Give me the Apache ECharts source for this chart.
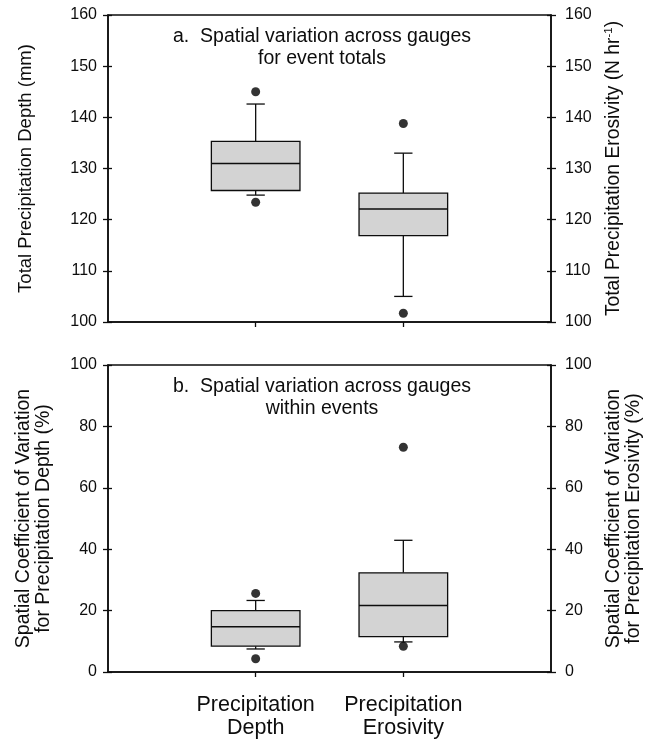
<!DOCTYPE html>
<html>
<head>
<meta charset="utf-8">
<script src="https://cdn.jsdelivr.net/npm/echarts@6/dist/echarts.min.js"></script>
<style>
html,body{margin:0;padding:0;background:#fff;}
#chart{width:658px;height:742px;}
</style>
</head>
<body>
<div id="chart"></div>
<script>
// ---- data ----
const categories = ['Precipitation\nDepth', 'Precipitation\nErosivity'];
// [lower whisker, Q1, median, Q3, upper whisker]
const totalDepthStats = [124.8, 125.7, 131.0, 135.3, 142.6];
const totalErosivityStats = [105.0, 116.9, 122.1, 125.2, 133.0];
const totalDepthOutliers = [145.0, 123.4];
const totalErosivityOutliers = [138.8, 101.7];
const cvDepthStats = [7.5, 8.4, 14.7, 20.0, 23.3];
const cvErosivityStats = [9.8, 11.5, 21.7, 32.3, 42.9];
const cvDepthOutliers = [25.6, 4.3];
const cvErosivityOutliers = [73.2, 8.4];
const totalTicks = [100, 160, 10];
const cvTicks = [0, 100, 20];

const FONT = '"Liberation Sans", Arial, Helvetica, sans-serif';
const INK = '#0d0d0d';
const axisCats = [''].concat(categories, ['']);

function boxRender(params, api) {
  const x = api.value(0);
  const lo = api.coord([x, api.value(1)]);
  const q1 = api.coord([x, api.value(2)]);
  const med = api.coord([x, api.value(3)]);
  const q3 = api.coord([x, api.value(4)]);
  const hi = api.coord([x, api.value(5)]);
  const band = api.size([1, 0])[0];
  const half = band * 0.3, cap = band * 0.062;
  const cx = lo[0];
  const st = {stroke: INK, lineWidth: 1.3, fill: null};
  return {type: 'group', children: [
    {type: 'line', shape: {x1: cx, y1: q3[1], x2: cx, y2: hi[1]}, style: st},
    {type: 'line', shape: {x1: cx - cap, y1: hi[1], x2: cx + cap, y2: hi[1]}, style: st},
    {type: 'line', shape: {x1: cx, y1: q1[1], x2: cx, y2: lo[1]}, style: st},
    {type: 'line', shape: {x1: cx - cap, y1: lo[1], x2: cx + cap, y2: lo[1]}, style: st},
    {type: 'rect', shape: {x: cx - half, y: q3[1], width: 2 * half, height: q1[1] - q3[1]},
      style: {fill: '#d3d3d3', stroke: INK, lineWidth: 1.3}},
    {type: 'line', shape: {x1: cx - half, y1: med[1], x2: cx + half, y2: med[1]}, style: {stroke: INK, lineWidth: 1.5}}
  ]};
}

function xAxisFor(grid, showLabels) {
  return {
    type: 'category', gridIndex: grid, data: axisCats, boundaryGap: false,
    axisLine: {lineStyle: {color: INK, width: 1.5}},
    axisTick: {show: true, length: 5, lineStyle: {color: INK, width: 1.3},
      interval: function (i) { return i === 1 || i === 2; }},
    axisLabel: {show: showLabels, interval: 0, fontFamily: FONT, fontSize: 21.5, lineHeight: 23.5, color: INK, margin: 21},
    splitLine: {show: false}
  };
}

function yAxisFor(grid, ticks, pos, name, nameGap, nameSize, nameLH, labelMargin, rich) {
  return {
    type: 'value', gridIndex: grid, position: pos, min: ticks[0], max: ticks[1], interval: ticks[2],
    name: name, nameLocation: 'middle', nameGap: nameGap, nameRotate: 90,
    nameTextStyle: {fontFamily: FONT, fontSize: nameSize, lineHeight: nameLH, color: INK, rich: rich || {}},
    axisLine: {show: true, lineStyle: {color: INK, width: 1.5}},
    axisTick: {show: true, length: 5, lineStyle: {color: INK, width: 1.3}},
    axisLabel: {fontFamily: FONT, fontSize: 16, color: INK, margin: labelMargin},
    splitLine: {show: false}
  };
}

function innerTickAxis(grid, ticks, pos) {
  return {
    type: 'value', gridIndex: grid, position: pos, min: ticks[0], max: ticks[1], interval: ticks[2],
    axisLine: {show: false},
    axisTick: {show: true, inside: true, length: 4, lineStyle: {color: INK, width: 1.3}},
    axisLabel: {show: false}, splitLine: {show: false}
  };
}

function pairs(idx, arr) { return arr.map(v => [idx, v]); }

const supRich = {sup: {fontFamily: FONT, fontSize: 11.5, verticalAlign: 'top', lineHeight: 14, color: INK, padding: [0, 0, 10, 0]}};

const option = {
  backgroundColor: '#fff',
  animation: false,
  title: [
    {text: 'a.  Spatial variation across gauges\nfor event totals', left: 322, top: 26, textAlign: 'center', padding: 0,
      textStyle: {fontFamily: FONT, fontSize: 19.5, fontWeight: 'normal', lineHeight: 21.6, color: INK}},
    {text: 'b.  Spatial variation across gauges\nwithin events', left: 322, top: 376, textAlign: 'center', padding: 0,
      textStyle: {fontFamily: FONT, fontSize: 19.5, fontWeight: 'normal', lineHeight: 21.6, color: INK}}
  ],
  grid: [
    {left: 108, right: 107, top: 15, height: 307, show: true, borderColor: INK, borderWidth: 1.5, backgroundColor: 'transparent'},
    {left: 108, right: 107, top: 365, height: 307, show: true, borderColor: INK, borderWidth: 1.5, backgroundColor: 'transparent'}
  ],
  xAxis: [xAxisFor(0, false), xAxisFor(1, true)],
  yAxis: [
    yAxisFor(0, totalTicks, 'left', 'Total Precipitation Depth (mm)', 72, 18.5, 21, 11),
    yAxisFor(0, totalTicks, 'right', 'Total Precipitation Erosivity (N hr{sup|-1})', 50, 19.3, 22, 14, supRich),
    innerTickAxis(0, totalTicks, 'left'),
    innerTickAxis(0, totalTicks, 'right'),
    yAxisFor(1, cvTicks, 'left', 'Spatial Coefficient of Variation\nfor Precipitation Depth (%)', 55, 19.5, 19.5, 11),
    yAxisFor(1, cvTicks, 'right', 'Spatial Coefficient of Variation\nfor Precipitation Erosivity (%)', 53, 19.5, 19.5, 14),
    innerTickAxis(1, cvTicks, 'left'),
    innerTickAxis(1, cvTicks, 'right')
  ],
  series: [
    {type: 'custom', xAxisIndex: 0, yAxisIndex: 0, renderItem: boxRender, data: [[1].concat(totalDepthStats)]},
    {type: 'custom', xAxisIndex: 0, yAxisIndex: 1, renderItem: boxRender, data: [[2].concat(totalErosivityStats)]},
    {type: 'scatter', xAxisIndex: 0, yAxisIndex: 0, symbolSize: 9, itemStyle: {color: '#000'}, data: pairs(1, totalDepthOutliers)},
    {type: 'scatter', xAxisIndex: 0, yAxisIndex: 1, symbolSize: 9, itemStyle: {color: '#000'}, data: pairs(2, totalErosivityOutliers)},
    {type: 'custom', xAxisIndex: 1, yAxisIndex: 4, renderItem: boxRender, data: [[1].concat(cvDepthStats)]},
    {type: 'custom', xAxisIndex: 1, yAxisIndex: 5, renderItem: boxRender, data: [[2].concat(cvErosivityStats)]},
    {type: 'scatter', xAxisIndex: 1, yAxisIndex: 4, symbolSize: 9, itemStyle: {color: '#000'}, data: pairs(1, cvDepthOutliers)},
    {type: 'scatter', xAxisIndex: 1, yAxisIndex: 5, symbolSize: 9, itemStyle: {color: '#000'}, data: pairs(2, cvErosivityOutliers)}
  ]
};

const chart = echarts.init(document.getElementById('chart'), null, {renderer: 'canvas'});
chart.setOption(option);
</script>
</body>
</html>
